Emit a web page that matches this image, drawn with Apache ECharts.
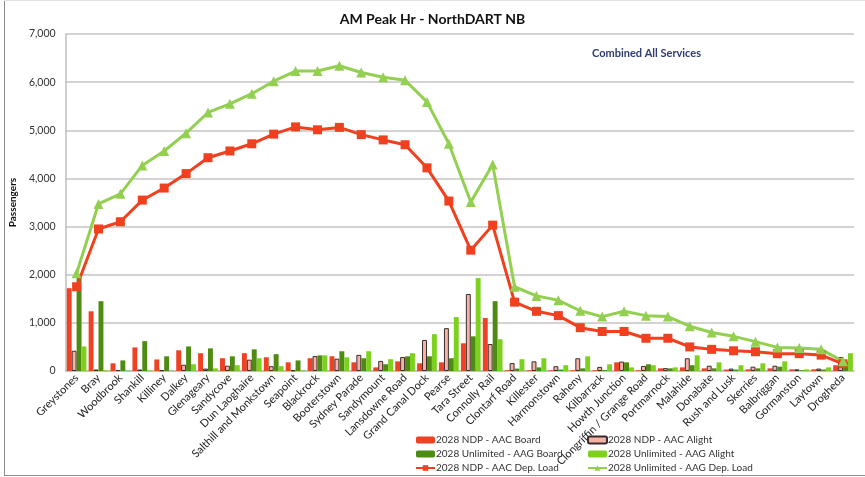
<!DOCTYPE html>
<html style="height: 100%">
<head>
    <meta charset="utf-8">
</head>
<body style="height: 100%; margin: 0; background: #fff">
<div id="container" style="width: 865px; height: 477px"></div>
<script type="text/javascript" src="https://cdn.jsdelivr.net/npm/echarts@6/dist/echarts.min.js"></script>
<script type="text/javascript">
var stations = ['Greystones', 'Bray', 'Woodbrook', 'Shankill', 'Killiney', 'Dalkey', 'Glenageary', 'Sandycove',
    'Dun Laoghaire', 'Salthill and Monkstown', 'Seapoint', 'Blackrock', 'Booterstown', 'Sydney Parade', 'Sandymount',
    'Lansdowne Road', 'Grand Canal Dock', 'Pearse', 'Tara Street', 'Connolly Rail', 'Clontarf Road', 'Killester',
    'Harmonstown', 'Raheny', 'Kilbarrack', 'Howth Junction', 'Clongriffin / Grange Road', 'Portmarnock', 'Malahide',
    'Donabate', 'Rush and Lusk', 'Skerries', 'Balbriggan', 'Gormanston', 'Laytown', 'Drogheda'];

var ndpBoard = [1720, 1240, 160, 490, 240, 430, 370, 265, 370, 285, 180, 265, 305, 180, 75, 200, 160, 180, 575, 1100,
    15, 15, 15, 15, 15, 180, 15, 55, 75, 55, 30, 35, 55, 35, 35, 120];
var ndpAlight = [420, 30, 20, 30, 15, 130, 50, 110, 235, 100, 15, 310, 255, 335, 210, 290, 645, 890, 1600, 560,
    165, 200, 100, 265, 85, 195, 105, 60, 265, 110, 50, 90, 110, 35, 50, 290];
var unlBoard = [2000, 1450, 220, 620, 305, 510, 470, 305, 450, 350, 220, 325, 410, 265, 140, 305, 305, 265, 720, 1450,
    50, 75, 30, 55, 20, 180, 140, 55, 120, 55, 30, 55, 90, 15, 30, 190];
var unlAlight = [510, 15, 10, 10, 10, 140, 55, 120, 265, 100, 15, 325, 285, 410, 245, 370, 765, 1120, 1930, 660,
    245, 265, 120, 305, 140, 75, 120, 75, 325, 180, 120, 160, 200, 35, 75, 370];
var ndpLoad = [1750, 2950, 3100, 3550, 3800, 4100, 4430, 4570, 4720, 4920, 5070, 5010, 5060, 4910, 4800, 4700, 4220,
    3530, 2510, 3030, 1430, 1240, 1150, 900, 820, 820, 680, 680, 500, 450, 420, 400, 360, 360, 330, 150];
var unlLoad = [2030, 3470, 3680, 4270, 4570, 4940, 5370, 5550, 5760, 6020, 6230, 6230, 6340, 6200, 6100, 6040, 5590,
    4720, 3510, 4290, 1750, 1560, 1470, 1250, 1130, 1240, 1150, 1130, 930, 800, 720, 610, 490, 480, 450, 200];

var font = 'Lato, "Open Sans", sans-serif';
var dom = document.getElementById('container');
var myChart = echarts.init(dom, null, {renderer: 'canvas'});

var legendBase = {
    orient: 'vertical',
    top: 435,
    height: 60,
    padding: 0,
    itemWidth: 19,
    itemHeight: 7,
    itemGap: 4,
    textStyle: {fontSize: 10, color: '#333', padding: [0, 0, 0, -4]}
};

var option = {
    backgroundColor: '#fff',
    animation: false,
    textStyle: {fontFamily: font},
    title: [{
        text: 'AM Peak Hr - NorthDART NB',
        left: 'center',
        top: 7,
        textStyle: {fontSize: 14, fontWeight: 'bold', color: '#111', fontFamily: font}
    }, {
        text: 'Combined All Services',
        left: 587,
        top: 43,
        textStyle: {fontSize: 11, fontWeight: 'bold', color: '#2F3B73', fontFamily: font}
    }],
    graphic: [
        {type: 'line', shape: {x1: 4.5, y1: 0, x2: 4.5, y2: 476}, style: {stroke: '#8c8c8c', lineWidth: 1}},
        {type: 'line', shape: {x1: 4, y1: 475.5, x2: 865, y2: 475.5}, style: {stroke: '#8c8c8c', lineWidth: 1}},
        {type: 'line', shape: {x1: 4, y1: 0.5, x2: 865, y2: 0.5}, style: {stroke: '#e2e2e2', lineWidth: 1}}
    ],
    legend: [
        Object.assign({}, legendBase, {
            left: 415,
            data: ['2028 NDP - AAC Board', '2028 Unlimited - AAG Board', '2028 NDP - AAC Dep. Load']
        }),
        Object.assign({}, legendBase, {
            left: 587,
            data: ['2028 NDP - AAC Alight', '2028 Unlimited - AAG Alight', '2028 Unlimited - AAG Dep. Load']
        })
    ],
    grid: {
        left: 60,
        right: 11,
        top: 34,
        bottom: 106
    },
    xAxis: {
        type: 'category',
        data: stations,
        axisTick: {show: false},
        axisLine: {lineStyle: {color: '#bfbfbf', width: 1.5}},
        axisLabel: {
            interval: 0,
            rotate: 45,
            margin: 5,
            fontSize: 11,
            color: '#222'
        }
    },
    yAxis: {
        type: 'value',
        min: 0,
        max: 7000,
        interval: 1000,
        name: 'Passengers',
        nameLocation: 'middle',
        nameRotate: 90,
        nameGap: 30,
        nameTextStyle: {fontSize: 10, fontWeight: 'bold', color: '#111'},
        axisLine: {show: true, lineStyle: {color: '#bfbfbf', width: 1.5}},
        axisTick: {show: false},
        axisLabel: {
            margin: 10,
            fontSize: 10.5,
            color: '#333',
            formatter: function (v) { return v.toLocaleString('en-US'); }
        },
        splitLine: {lineStyle: {color: '#c4c4c4', width: 1.5}}
    },
    series: [
        {
            name: '2028 NDP - AAC Board',
            type: 'bar',
            barGap: '0%',
            barCategoryGap: '10%',
            itemStyle: {color: '#EF4123'},
            data: ndpBoard
        },
        {
            name: '2028 NDP - AAC Alight',
            type: 'bar',
            itemStyle: {color: '#F6B3A5', borderColor: '#3a2c2c', borderWidth: 1},
            data: ndpAlight
        },
        {
            name: '2028 Unlimited - AAG Board',
            type: 'bar',
            itemStyle: {color: '#4E8B12'},
            data: unlBoard
        },
        {
            name: '2028 Unlimited - AAG Alight',
            type: 'bar',
            itemStyle: {color: '#7DD11E'},
            data: unlAlight
        },
        {
            name: '2028 NDP - AAC Dep. Load',
            type: 'line',
            symbol: 'rect',
            symbolSize: 9,
            lineStyle: {color: '#F0401F', width: 3},
            itemStyle: {color: '#F0401F'},
            data: ndpLoad
        },
        {
            name: '2028 Unlimited - AAG Dep. Load',
            type: 'line',
            symbol: 'triangle',
            symbolSize: 10,
            lineStyle: {color: '#93CF50', width: 3},
            itemStyle: {color: '#93CF50'},
            data: unlLoad
        }
    ]
};

myChart.setOption(option);
</script>
</body>
</html>
